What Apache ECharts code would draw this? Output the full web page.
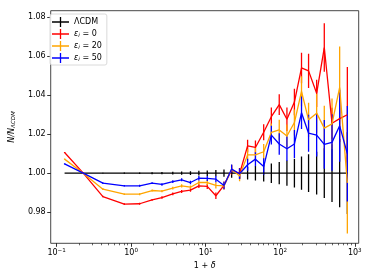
<!DOCTYPE html>
<html><head><meta charset="utf-8">
<script src="https://cdn.jsdelivr.net/npm/echarts@6/dist/echarts.min.js"></script>
<style>html,body{margin:0;padding:0;background:#fff}#c{width:374px;height:280px}</style>
</head><body><div id="c"></div>
<script>
// 1 + delta (x positions of the bins)
const xVals = [0.128, 0.228, 0.418, 0.81, 1.30, 1.91, 2.59, 3.62, 4.76, 6.25, 8.1, 10.5, 13.7, 17.6, 22.3, 28.5, 36.5, 46.5, 60, 76, 97, 123, 155, 193, 240, 308, 390, 495, 627, 795];
// Lambda CDM reference
const lcdmY = [1,1,1,1,1,1,1,1,1,1,1,1,1,1,1,1,1,1,1,1,1,1,1,1,1,1,1,1,1,1];
const lcdmErr = [0, 0.0001, 0.0002, 0.0003, 0.0004, 0.0005, 0.0006, 0.0007, 0.0008, 0.001, 0.0012, 0.0014, 0.0016, 0.0019, 0.0023, 0.0027, 0.0032, 0.0037, 0.0043, 0.005, 0.0057, 0.0065, 0.0074, 0.0085, 0.0097, 0.011, 0.0128, 0.0148, 0.0175, 0.021];
// eps_i = 0
const e0Y = [1.0106, 1.0000, 0.9880, 0.9841, 0.9843, 0.9863, 0.9875, 0.9894, 0.9906, 0.9913, 0.9935, 0.9932, 0.9884, 0.9937, 1.0017, 0.9997, 1.0140, 1.0132, 1.0210, 1.0290, 1.0352, 1.0277, 1.0365, 1.0540, 1.0525, 1.0410, 1.0645, 1.0256, 1.0280, 1.0300];
const e0Err = [0.0003, 0.0003, 0.0004, 0.0004, 0.0005, 0.0005, 0.0006, 0.0007, 0.0008, 0.0009, 0.0011, 0.0013, 0.0017, 0.002, 0.0024, 0.0028, 0.0032, 0.0036, 0.0041, 0.0047, 0.0053, 0.006, 0.0068, 0.0078, 0.0088, 0.007, 0.0125, 0.008, 0.012, 0.0245];
// eps_i = 20
const e20Y = [1.0072, 1.0000, 0.9918, 0.9892, 0.9892, 0.9911, 0.9908, 0.9923, 0.9935, 0.9928, 0.9952, 0.9952, 0.9937, 0.9935, 1.0020, 0.9986, 1.0094, 1.0094, 1.0110, 1.0209, 1.0222, 1.0191, 1.0260, 1.0420, 1.0274, 1.0308, 1.0231, 1.0253, 1.0440, 0.9950];
const e20Err = [0.0003, 0.0003, 0.0004, 0.0004, 0.0005, 0.0005, 0.0006, 0.0007, 0.0008, 0.0009, 0.0011, 0.0013, 0.0016, 0.0019, 0.0023, 0.0027, 0.0031, 0.0035, 0.004, 0.0046, 0.0052, 0.0059, 0.0067, 0.0077, 0.0088, 0.0100, 0.0115, 0.013, 0.021, 0.026];
// eps_i = 50
const e50Y = [1.0048, 1.0000, 0.9949, 0.9935, 0.9935, 0.9949, 0.9942, 0.9957, 0.9966, 0.9952, 0.9974, 0.9973, 0.9969, 0.9937, 1.0021, 0.9997, 1.0043, 1.0072, 1.0034, 1.0195, 1.0150, 1.0125, 1.0150, 1.0310, 1.0205, 1.0195, 1.0148, 1.0158, 1.0243, 1.0100];
const e50Err = [0.0003, 0.0003, 0.0004, 0.0004, 0.0005, 0.0005, 0.0006, 0.0007, 0.0008, 0.0009, 0.0011, 0.0013, 0.0016, 0.0019, 0.0023, 0.0027, 0.0031, 0.0036, 0.0042, 0.0048, 0.0055, 0.0063, 0.0072, 0.0083, 0.0095, 0.011, 0.0125, 0.0145, 0.0185, 0.0245];

const xTicks = [0.1, 1, 10, 100, 1000];
const xMinorTicks = [0.2,0.3,0.4,0.5,0.6,0.7,0.8,0.9, 2,3,4,5,6,7,8,9, 20,30,40,50,60,70,80,90, 200,300,400,500,600,700,800,900];
const yTicks = [0.98, 1.00, 1.02, 1.04, 1.06, 1.08];

const seriesNames = ['lcdm', 'e0', 'e20', 'e50'];
const seriesColors = ['#000000', '#ff0000', '#ffa500', '#0000ff'];
const seriesY = [lcdmY, e0Y, e20Y, e50Y];
const seriesErr = [lcdmErr, e0Err, e20Err, e50Err];

const FONT = 'DejaVu Sans';
const LW = 1.3;

function errSeries(idx) {
  const color = seriesColors[idx];
  return {
    type: 'custom', name: seriesNames[idx] + '_err', xAxisIndex: 0, yAxisIndex: 0,
    silent: true, clip: true,
    encode: {x: 0, y: 1},
    data: xVals.map((x, i) => [x, seriesY[idx][i], seriesErr[idx][i]]),
    renderItem: (params, api) => {
      const x = api.value(0), y = api.value(1), e = api.value(2);
      const p1 = api.coord([x, y - e]), p2 = api.coord([x, y + e]);
      return {type: 'line', shape: {x1: p1[0], y1: p1[1], x2: p2[0], y2: p2[1]},
        style: {stroke: color, lineWidth: LW}};
    }
  };
}
function lineSeries(idx) {
  return {
    type: 'line', name: seriesNames[idx], xAxisIndex: 0, yAxisIndex: 0,
    data: xVals.map((x, i) => [x, seriesY[idx][i]]),
    showSymbol: false, symbol: 'none', silent: true, animation: false,
    lineStyle: {color: seriesColors[idx], width: LW},
    itemStyle: {color: seriesColors[idx]}
  };
}
const series = [];
for (let k = 0; k < 4; k++) { series.push(lineSeries(k)); series.push(errSeries(k)); }

const legendLabels = {
  lcdm: 'ΛCDM',
  e0: '{i|ε}{sub|i}{n| = 0}',
  e20: '{i|ε}{sub|i}{n| = 20}',
  e50: '{i|ε}{sub|i}{n| = 50}'
};
const supMinus = v => String(v).replace('-', '\u2212');

const chart = echarts.init(document.getElementById('c'), null, {renderer: 'canvas'});
chart.setOption({
  animation: false,
  backgroundColor: '#ffffff',
  grid: {left: 45.3, top: 10.7, width: 313.4, height: 232.6, show: true,
    borderColor: '#333', borderWidth: 0.9, backgroundColor: 'transparent'},
  legend: {
    orient: 'vertical', left: 50, top: 14,
    padding: [3, 5, 2, 2], itemGap: 2, itemWidth: 17, itemHeight: 10,
    borderColor: '#d0d0d0', borderWidth: 0.8, borderRadius: 2, backgroundColor: 'rgba(255,255,255,0.85)',
    data: seriesNames.map((n, i) => ({name: n,
      icon: 'path://M0,4.35 L17,4.35 L17,5.65 L0,5.65 Z M7.85,0 L9.15,0 L9.15,10 L7.85,10 Z',
      itemStyle: {color: seriesColors[i]}})),
    formatter: n => legendLabels[n],
    textStyle: {fontFamily: FONT, fontSize: 8, color: '#000',
      rich: {
        i: {fontFamily: FONT, fontSize: 8, fontStyle: 'italic', color: '#000'},
        sub: {fontFamily: FONT, fontSize: 5.6, fontStyle: 'italic', color: '#000', verticalAlign: 'bottom', padding: [4, 0, 0, 0]},
        n: {fontFamily: FONT, fontSize: 8, color: '#000'}
      }}
  },
  xAxis: [{
    type: 'log', logBase: 10, min: 0.0834, max: 1129, gridIndex: 0,
    axisLine: {show: false},
    splitLine: {show: false},
    axisTick: {show: true, length: 3.5, inside: false, lineStyle: {color: '#000', width: 0.8}, customValues: xTicks},
    axisLabel: {show: true, customValues: xTicks, margin: 4,
      formatter: v => '{b|10}{s|' + supMinus(Math.round(Math.log10(v))) + '}',
      rich: {
        b: {fontFamily: FONT, fontSize: 8, color: '#000', verticalAlign: 'bottom'},
        s: {fontFamily: FONT, fontSize: 5.6, color: '#000', verticalAlign: 'top', padding: [0, 0, 4, 0]}
      }},
    name: '1 + {d|δ}', nameLocation: 'middle', nameGap: 16,
    nameTextStyle: {fontFamily: FONT, fontSize: 8, color: '#000',
      rich: {d: {fontFamily: FONT, fontSize: 8, fontStyle: 'italic', color: '#000'}}}
  }, {
    type: 'log', logBase: 10, min: 0.0834, max: 1129, gridIndex: 0, position: 'bottom',
    axisLine: {show: false}, splitLine: {show: false},
    axisLabel: {show: false},
    axisTick: {show: true, length: 2, lineStyle: {color: '#000', width: 0.6}, customValues: xMinorTicks}
  }],
  yAxis: {
    type: 'value', min: 0.964, max: 1.0834,
    axisLine: {show: false}, splitLine: {show: false},
    axisTick: {show: true, length: 3.5, lineStyle: {color: '#000', width: 0.8}, customValues: yTicks},
    axisLabel: {customValues: yTicks, margin: 5, formatter: v => v.toFixed(2),
      fontFamily: FONT, fontSize: 8, color: '#000'},
    name: '{i|N/N}{sub|ΛCDM}', nameLocation: 'middle', nameRotate: 90, nameGap: 30,
    nameTextStyle: {fontFamily: FONT, fontSize: 8, color: '#000',
      rich: {
        i: {fontFamily: FONT, fontSize: 8, fontStyle: 'italic', color: '#000'},
        sub: {fontFamily: FONT, fontSize: 5.6, fontStyle: 'italic', color: '#000', verticalAlign: 'bottom', padding: [4, 0, 0, 0]}
      }}
  },
  series: series
});
</script>
</body></html>
